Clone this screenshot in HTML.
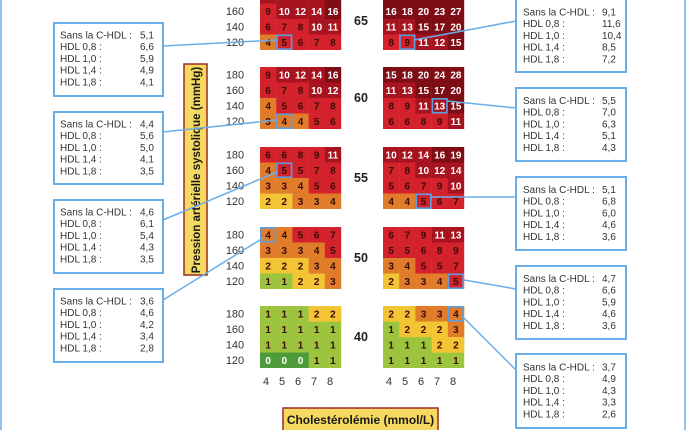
<!DOCTYPE html>
<html><head><meta charset="utf-8"><style>
html,body{margin:0;padding:0;background:#fff;}
svg{display:block;font-family:"Liberation Sans",sans-serif;}
.g0{fill:#4f9a3b}.g{fill:#9cc43f}.y{fill:#f3c535}.o{fill:#e07c2a}.r{fill:#d3222b}.d{fill:#a7131e}.dd{fill:#7f0d15}
.c text{font-size:10px;font-weight:bold;text-anchor:middle;fill:#3a0c08}
.c text.w{fill:#fff}
.lab{font-size:11px;fill:#333;text-anchor:middle}
.big{font-size:12.5px;font-weight:bold;fill:#222;text-anchor:middle}
.bx{fill:#fff;stroke:#6aaee8;stroke-width:2}
.bt{font-size:10px;fill:#333}
.ln{stroke:#6aaee8;stroke-width:1.5;fill:none}
.hl{fill:none;stroke:#5b9fe0;stroke-width:1.6}
</style></head><body>
<svg width="686" height="430" viewBox="0 0 686 430">
<line x1="1" y1="0" x2="1" y2="430" class="ln" stroke-width="2"/>
<line x1="685" y1="0" x2="685" y2="430" class="ln" stroke-width="2"/>

<!-- 65 Left -->
<g class="c" transform="translate(260,-12)">
<rect class="d" x="0" y="0" width="16.4" height="15.7"/><rect class="d" x="16.2" y="0" width="16.4" height="15.7"/><rect class="d" x="32.4" y="0" width="16.4" height="15.7"/><rect class="d" x="48.6" y="0" width="16.4" height="15.7"/><rect class="dd" x="64.8" y="0" width="16.4" height="15.7"/>
<rect class="r" x="0" y="15.5" width="16.4" height="15.7"/><rect class="d" x="16.2" y="15.5" width="16.4" height="15.7"/><rect class="d" x="32.4" y="15.5" width="16.4" height="15.7"/><rect class="d" x="48.6" y="15.5" width="16.4" height="15.7"/><rect class="dd" x="64.8" y="15.5" width="16.4" height="15.7"/>
<rect class="r" x="0" y="31" width="16.4" height="15.7"/><rect class="r" x="16.2" y="31" width="16.4" height="15.7"/><rect class="r" x="32.4" y="31" width="16.4" height="15.7"/><rect class="d" x="48.6" y="31" width="16.4" height="15.7"/><rect class="d" x="64.8" y="31" width="16.4" height="15.7"/>
<rect class="o" x="0" y="46.5" width="16.4" height="15.5"/><rect class="r" x="16.2" y="46.5" width="16.4" height="15.5"/><rect class="r" x="32.4" y="46.5" width="16.4" height="15.5"/><rect class="r" x="48.6" y="46.5" width="16.4" height="15.5"/><rect class="r" x="64.8" y="46.5" width="16.4" height="15.5"/>
<text class="w" x="8.1" y="11.5">12</text><text class="w" x="24.3" y="11.5">13</text><text class="w" x="40.5" y="11.5">14</text><text class="w" x="56.7" y="11.5">14</text><text class="w" x="72.9" y="11.5">19</text>
<text x="8.1" y="27">9</text><text class="w" x="24.3" y="27">10</text><text class="w" x="40.5" y="27">12</text><text class="w" x="56.7" y="27">14</text><text class="w" x="72.9" y="27">16</text>
<text x="8.1" y="42.5">6</text><text x="24.3" y="42.5">7</text><text x="40.5" y="42.5">8</text><text class="w" x="56.7" y="42.5">10</text><text class="w" x="72.9" y="42.5">11</text>
<text x="8.1" y="58">4</text><text x="24.3" y="58">5</text><text x="40.5" y="58">6</text><text x="56.7" y="58">7</text><text x="72.9" y="58">8</text>
<rect class="hl" x="17" y="47.3" width="14.6" height="13.9"/>
</g>

<!-- 65 Right -->
<g class="c" transform="translate(383,-12)">
<rect class="dd" x="0" y="0" width="81.2" height="31.2"/>
<rect class="d" x="0" y="31" width="16.4" height="15.7"/><rect class="d" x="16.2" y="31" width="16.4" height="15.7"/><rect class="dd" x="32.4" y="31" width="16.4" height="15.7"/><rect class="dd" x="48.6" y="31" width="16.4" height="15.7"/><rect class="dd" x="64.8" y="31" width="16.4" height="15.7"/>
<rect class="r" x="0" y="46.5" width="16.4" height="15.5"/><rect class="r" x="16.2" y="46.5" width="16.4" height="15.5"/><rect class="d" x="32.4" y="46.5" width="16.4" height="15.5"/><rect class="d" x="48.6" y="46.5" width="16.4" height="15.5"/><rect class="dd" x="64.8" y="46.5" width="16.4" height="15.5"/>
<text class="w" x="8.1" y="11.5">22</text><text class="w" x="24.3" y="11.5">24</text><text class="w" x="40.5" y="11.5">27</text><text class="w" x="56.7" y="11.5">30</text><text class="w" x="72.9" y="11.5">33</text>
<text class="w" x="8.1" y="27">16</text><text class="w" x="24.3" y="27">18</text><text class="w" x="40.5" y="27">20</text><text class="w" x="56.7" y="27">23</text><text class="w" x="72.9" y="27">27</text>
<text class="w" x="8.1" y="42.5">11</text><text class="w" x="24.3" y="42.5">13</text><text class="w" x="40.5" y="42.5">15</text><text class="w" x="56.7" y="42.5">17</text><text class="w" x="72.9" y="42.5">20</text>
<text x="8.1" y="58">8</text><text x="24.3" y="58">9</text><text class="w" x="40.5" y="58">11</text><text class="w" x="56.7" y="58">12</text><text class="w" x="72.9" y="58">15</text>
<rect class="hl" x="17" y="47.3" width="14.6" height="13.9"/>
</g>

<!-- 60 Left -->
<g class="c" transform="translate(260,67)">
<rect class="r" x="0" y="0" width="16.4" height="15.7"/><rect class="d" x="16.2" y="0" width="16.4" height="15.7"/><rect class="d" x="32.4" y="0" width="16.4" height="15.7"/><rect class="d" x="48.6" y="0" width="16.4" height="15.7"/><rect class="dd" x="64.8" y="0" width="16.4" height="15.7"/>
<rect class="r" x="0" y="15.5" width="16.4" height="15.7"/><rect class="r" x="16.2" y="15.5" width="16.4" height="15.7"/><rect class="r" x="32.4" y="15.5" width="16.4" height="15.7"/><rect class="d" x="48.6" y="15.5" width="16.4" height="15.7"/><rect class="d" x="64.8" y="15.5" width="16.4" height="15.7"/>
<rect class="o" x="0" y="31" width="16.4" height="15.7"/><rect class="r" x="16.2" y="31" width="16.4" height="15.7"/><rect class="r" x="32.4" y="31" width="16.4" height="15.7"/><rect class="r" x="48.6" y="31" width="16.4" height="15.7"/><rect class="r" x="64.8" y="31" width="16.4" height="15.7"/>
<rect class="o" x="0" y="46.5" width="16.4" height="15.5"/><rect class="o" x="16.2" y="46.5" width="16.4" height="15.5"/><rect class="o" x="32.4" y="46.5" width="16.4" height="15.5"/><rect class="r" x="48.6" y="46.5" width="16.4" height="15.5"/><rect class="r" x="64.8" y="46.5" width="16.4" height="15.5"/>
<text x="8.1" y="11.5">9</text><text class="w" x="24.3" y="11.5">10</text><text class="w" x="40.5" y="11.5">12</text><text class="w" x="56.7" y="11.5">14</text><text class="w" x="72.9" y="11.5">16</text>
<text x="8.1" y="27">6</text><text x="24.3" y="27">7</text><text x="40.5" y="27">8</text><text class="w" x="56.7" y="27">10</text><text class="w" x="72.9" y="27">12</text>
<text x="8.1" y="42.5">4</text><text x="24.3" y="42.5">5</text><text x="40.5" y="42.5">6</text><text x="56.7" y="42.5">7</text><text x="72.9" y="42.5">8</text>
<text x="8.1" y="58">3</text><text x="24.3" y="58">4</text><text x="40.5" y="58">4</text><text x="56.7" y="58">5</text><text x="72.9" y="58">6</text>
<rect class="hl" x="17" y="47.3" width="14.6" height="13.9"/>
</g>

<!-- 60 Right -->
<g class="c" transform="translate(383,67)">
<rect class="dd" x="0" y="0" width="81.2" height="15.7"/>
<rect class="d" x="0" y="15.5" width="16.4" height="15.7"/><rect class="d" x="16.2" y="15.5" width="16.4" height="15.7"/><rect class="dd" x="32.4" y="15.5" width="16.4" height="15.7"/><rect class="dd" x="48.6" y="15.5" width="16.4" height="15.7"/><rect class="dd" x="64.8" y="15.5" width="16.4" height="15.7"/>
<rect class="r" x="0" y="31" width="16.4" height="15.7"/><rect class="r" x="16.2" y="31" width="16.4" height="15.7"/><rect class="d" x="32.4" y="31" width="16.4" height="15.7"/><rect class="d" x="48.6" y="31" width="16.4" height="15.7"/><rect class="dd" x="64.8" y="31" width="16.4" height="15.7"/>
<rect class="r" x="0" y="46.5" width="16.4" height="15.5"/><rect class="r" x="16.2" y="46.5" width="16.4" height="15.5"/><rect class="r" x="32.4" y="46.5" width="16.4" height="15.5"/><rect class="r" x="48.6" y="46.5" width="16.4" height="15.5"/><rect class="d" x="64.8" y="46.5" width="16.4" height="15.5"/>
<text class="w" x="8.1" y="11.5">15</text><text class="w" x="24.3" y="11.5">18</text><text class="w" x="40.5" y="11.5">20</text><text class="w" x="56.7" y="11.5">24</text><text class="w" x="72.9" y="11.5">28</text>
<text class="w" x="8.1" y="27">11</text><text class="w" x="24.3" y="27">13</text><text class="w" x="40.5" y="27">15</text><text class="w" x="56.7" y="27">17</text><text class="w" x="72.9" y="27">20</text>
<text x="8.1" y="42.5">8</text><text x="24.3" y="42.5">9</text><text class="w" x="40.5" y="42.5">11</text><text class="w" x="56.7" y="42.5">13</text><text class="w" x="72.9" y="42.5">15</text>
<text x="8.1" y="58">6</text><text x="24.3" y="58">6</text><text x="40.5" y="58">8</text><text x="56.7" y="58">9</text><text class="w" x="72.9" y="58">11</text>
<rect class="hl" x="49.4" y="31.8" width="14.6" height="13.9"/>
</g>

<!-- 55 Left -->
<g class="c" transform="translate(260,147)">
<rect class="r" x="0" y="0" width="16.4" height="15.7"/><rect class="r" x="16.2" y="0" width="16.4" height="15.7"/><rect class="r" x="32.4" y="0" width="16.4" height="15.7"/><rect class="r" x="48.6" y="0" width="16.4" height="15.7"/><rect class="d" x="64.8" y="0" width="16.4" height="15.7"/>
<rect class="o" x="0" y="15.5" width="16.4" height="15.7"/><rect class="r" x="16.2" y="15.5" width="16.4" height="15.7"/><rect class="r" x="32.4" y="15.5" width="16.4" height="15.7"/><rect class="r" x="48.6" y="15.5" width="16.4" height="15.7"/><rect class="r" x="64.8" y="15.5" width="16.4" height="15.7"/>
<rect class="o" x="0" y="31" width="16.4" height="15.7"/><rect class="o" x="16.2" y="31" width="16.4" height="15.7"/><rect class="o" x="32.4" y="31" width="16.4" height="15.7"/><rect class="r" x="48.6" y="31" width="16.4" height="15.7"/><rect class="r" x="64.8" y="31" width="16.4" height="15.7"/>
<rect class="y" x="0" y="46.5" width="16.4" height="15.5"/><rect class="y" x="16.2" y="46.5" width="16.4" height="15.5"/><rect class="o" x="32.4" y="46.5" width="16.4" height="15.5"/><rect class="o" x="48.6" y="46.5" width="16.4" height="15.5"/><rect class="o" x="64.8" y="46.5" width="16.4" height="15.5"/>
<text x="8.1" y="11.5">6</text><text x="24.3" y="11.5">6</text><text x="40.5" y="11.5">8</text><text x="56.7" y="11.5">9</text><text class="w" x="72.9" y="11.5">11</text>
<text x="8.1" y="27">4</text><text x="24.3" y="27">5</text><text x="40.5" y="27">5</text><text x="56.7" y="27">7</text><text x="72.9" y="27">8</text>
<text x="8.1" y="42.5">3</text><text x="24.3" y="42.5">3</text><text x="40.5" y="42.5">4</text><text x="56.7" y="42.5">5</text><text x="72.9" y="42.5">6</text>
<text x="8.1" y="58">2</text><text x="24.3" y="58">2</text><text x="40.5" y="58">3</text><text x="56.7" y="58">3</text><text x="72.9" y="58">4</text>
<rect class="hl" x="17" y="16.3" width="14.6" height="13.9"/>
</g>

<!-- 55 Right -->
<g class="c" transform="translate(383,147)">
<rect class="d" x="0" y="0" width="16.4" height="15.7"/><rect class="d" x="16.2" y="0" width="16.4" height="15.7"/><rect class="d" x="32.4" y="0" width="16.4" height="15.7"/><rect class="dd" x="48.6" y="0" width="16.4" height="15.7"/><rect class="dd" x="64.8" y="0" width="16.4" height="15.7"/>
<rect class="r" x="0" y="15.5" width="16.4" height="15.7"/><rect class="r" x="16.2" y="15.5" width="16.4" height="15.7"/><rect class="d" x="32.4" y="15.5" width="16.4" height="15.7"/><rect class="d" x="48.6" y="15.5" width="16.4" height="15.7"/><rect class="d" x="64.8" y="15.5" width="16.4" height="15.7"/>
<rect class="r" x="0" y="31" width="16.4" height="15.7"/><rect class="r" x="16.2" y="31" width="16.4" height="15.7"/><rect class="r" x="32.4" y="31" width="16.4" height="15.7"/><rect class="r" x="48.6" y="31" width="16.4" height="15.7"/><rect class="d" x="64.8" y="31" width="16.4" height="15.7"/>
<rect class="o" x="0" y="46.5" width="16.4" height="15.5"/><rect class="o" x="16.2" y="46.5" width="16.4" height="15.5"/><rect class="r" x="32.4" y="46.5" width="16.4" height="15.5"/><rect class="r" x="48.6" y="46.5" width="16.4" height="15.5"/><rect class="r" x="64.8" y="46.5" width="16.4" height="15.5"/>
<text class="w" x="8.1" y="11.5">10</text><text class="w" x="24.3" y="11.5">12</text><text class="w" x="40.5" y="11.5">14</text><text class="w" x="56.7" y="11.5">16</text><text class="w" x="72.9" y="11.5">19</text>
<text x="8.1" y="27">7</text><text x="24.3" y="27">8</text><text class="w" x="40.5" y="27">10</text><text class="w" x="56.7" y="27">12</text><text class="w" x="72.9" y="27">14</text>
<text x="8.1" y="42.5">5</text><text x="24.3" y="42.5">6</text><text x="40.5" y="42.5">7</text><text x="56.7" y="42.5">9</text><text class="w" x="72.9" y="42.5">10</text>
<text x="8.1" y="58">4</text><text x="24.3" y="58">4</text><text x="40.5" y="58">5</text><text x="56.7" y="58">6</text><text x="72.9" y="58">7</text>
<rect class="hl" x="33.2" y="47.3" width="14.6" height="13.9"/>
</g>

<!-- 50 Left -->
<g class="c" transform="translate(260,227)">
<rect class="o" x="0" y="0" width="16.4" height="15.7"/><rect class="o" x="16.2" y="0" width="16.4" height="15.7"/><rect class="r" x="32.4" y="0" width="16.4" height="15.7"/><rect class="r" x="48.6" y="0" width="16.4" height="15.7"/><rect class="r" x="64.8" y="0" width="16.4" height="15.7"/>
<rect class="o" x="0" y="15.5" width="16.4" height="15.7"/><rect class="o" x="16.2" y="15.5" width="16.4" height="15.7"/><rect class="o" x="32.4" y="15.5" width="16.4" height="15.7"/><rect class="o" x="48.6" y="15.5" width="16.4" height="15.7"/><rect class="r" x="64.8" y="15.5" width="16.4" height="15.7"/>
<rect class="y" x="0" y="31" width="16.4" height="15.7"/><rect class="y" x="16.2" y="31" width="16.4" height="15.7"/><rect class="y" x="32.4" y="31" width="16.4" height="15.7"/><rect class="o" x="48.6" y="31" width="16.4" height="15.7"/><rect class="o" x="64.8" y="31" width="16.4" height="15.7"/>
<rect class="g" x="0" y="46.5" width="16.4" height="15.5"/><rect class="g" x="16.2" y="46.5" width="16.4" height="15.5"/><rect class="y" x="32.4" y="46.5" width="16.4" height="15.5"/><rect class="y" x="48.6" y="46.5" width="16.4" height="15.5"/><rect class="o" x="64.8" y="46.5" width="16.4" height="15.5"/>
<text x="8.1" y="11.5">4</text><text x="24.3" y="11.5">4</text><text x="40.5" y="11.5">5</text><text x="56.7" y="11.5">6</text><text x="72.9" y="11.5">7</text>
<text x="8.1" y="27">3</text><text x="24.3" y="27">3</text><text x="40.5" y="27">3</text><text x="56.7" y="27">4</text><text x="72.9" y="27">5</text>
<text x="8.1" y="42.5">2</text><text x="24.3" y="42.5">2</text><text x="40.5" y="42.5">2</text><text x="56.7" y="42.5">3</text><text x="72.9" y="42.5">4</text>
<text x="8.1" y="58">1</text><text x="24.3" y="58">1</text><text x="40.5" y="58">2</text><text x="56.7" y="58">2</text><text x="72.9" y="58">3</text>
<rect class="hl" x="0.8" y="0.8" width="14.6" height="13.9"/>
</g>

<!-- 50 Right -->
<g class="c" transform="translate(383,227)">
<rect class="r" x="0" y="0" width="16.4" height="15.7"/><rect class="r" x="16.2" y="0" width="16.4" height="15.7"/><rect class="r" x="32.4" y="0" width="16.4" height="15.7"/><rect class="d" x="48.6" y="0" width="16.4" height="15.7"/><rect class="d" x="64.8" y="0" width="16.4" height="15.7"/>
<rect class="r" x="0" y="15.5" width="81.2" height="15.7"/>
<rect class="o" x="0" y="31" width="16.4" height="15.7"/><rect class="o" x="16.2" y="31" width="16.4" height="15.7"/><rect class="r" x="32.4" y="31" width="16.4" height="15.7"/><rect class="r" x="48.6" y="31" width="16.4" height="15.7"/><rect class="r" x="64.8" y="31" width="16.4" height="15.7"/>
<rect class="y" x="0" y="46.5" width="16.4" height="15.5"/><rect class="o" x="16.2" y="46.5" width="16.4" height="15.5"/><rect class="o" x="32.4" y="46.5" width="16.4" height="15.5"/><rect class="o" x="48.6" y="46.5" width="16.4" height="15.5"/><rect class="r" x="64.8" y="46.5" width="16.4" height="15.5"/>
<text x="8.1" y="11.5">6</text><text x="24.3" y="11.5">7</text><text x="40.5" y="11.5">9</text><text class="w" x="56.7" y="11.5">11</text><text class="w" x="72.9" y="11.5">13</text>
<text x="8.1" y="27">5</text><text x="24.3" y="27">5</text><text x="40.5" y="27">6</text><text x="56.7" y="27">8</text><text x="72.9" y="27">9</text>
<text x="8.1" y="42.5">3</text><text x="24.3" y="42.5">4</text><text x="40.5" y="42.5">5</text><text x="56.7" y="42.5">5</text><text x="72.9" y="42.5">7</text>
<text x="8.1" y="58">2</text><text x="24.3" y="58">3</text><text x="40.5" y="58">3</text><text x="56.7" y="58">4</text><text x="72.9" y="58">5</text>
<rect class="hl" x="65.6" y="47.3" width="14.6" height="13.9"/>
</g>

<!-- 40 Left -->
<g class="c" transform="translate(260,306)">
<rect class="g" x="0" y="0" width="81.2" height="62"/>
<rect class="y" x="48.6" y="0" width="32.6" height="15.7"/>
<rect class="g0" x="0" y="46.5" width="48.8" height="15.5"/>
<text x="8.1" y="11.5">1</text><text x="24.3" y="11.5">1</text><text x="40.5" y="11.5">1</text><text x="56.7" y="11.5">2</text><text x="72.9" y="11.5">2</text>
<text x="8.1" y="27">1</text><text x="24.3" y="27">1</text><text x="40.5" y="27">1</text><text x="56.7" y="27">1</text><text x="72.9" y="27">1</text>
<text x="8.1" y="42.5">1</text><text x="24.3" y="42.5">1</text><text x="40.5" y="42.5">1</text><text x="56.7" y="42.5">1</text><text x="72.9" y="42.5">1</text>
<text class="w" x="8.1" y="58">0</text><text class="w" x="24.3" y="58">0</text><text class="w" x="40.5" y="58">0</text><text x="56.7" y="58">1</text><text x="72.9" y="58">1</text>
</g>

<!-- 40 Right -->
<g class="c" transform="translate(383,306)">
<rect class="g" x="0" y="0" width="81.2" height="62"/>
<rect class="y" x="0" y="0" width="32.6" height="15.7"/><rect class="o" x="32.4" y="0" width="48.8" height="15.7"/>
<rect class="y" x="16.2" y="15.5" width="48.8" height="15.7"/><rect class="o" x="64.8" y="15.5" width="16.4" height="15.7"/>
<rect class="y" x="48.6" y="31" width="32.6" height="15.7"/>
<text x="8.1" y="11.5">2</text><text x="24.3" y="11.5">2</text><text x="40.5" y="11.5">3</text><text x="56.7" y="11.5">3</text><text x="72.9" y="11.5">4</text>
<text x="8.1" y="27">1</text><text x="24.3" y="27">2</text><text x="40.5" y="27">2</text><text x="56.7" y="27">2</text><text x="72.9" y="27">3</text>
<text x="8.1" y="42.5">1</text><text x="24.3" y="42.5">1</text><text x="40.5" y="42.5">1</text><text x="56.7" y="42.5">2</text><text x="72.9" y="42.5">2</text>
<text x="8.1" y="58">1</text><text x="24.3" y="58">1</text><text x="40.5" y="58">1</text><text x="56.7" y="58">1</text><text x="72.9" y="58">1</text>
<rect class="hl" x="65.6" y="0.8" width="14.6" height="13.9"/>
</g>

<!-- row labels -->
<g class="lab">
<text x="235" y="-0.5">180</text><text x="235" y="15">160</text><text x="235" y="30.5">140</text><text x="235" y="46">120</text>
<text x="235" y="78.5">180</text><text x="235" y="94">160</text><text x="235" y="109.5">140</text><text x="235" y="125">120</text>
<text x="235" y="158.5">180</text><text x="235" y="174">160</text><text x="235" y="189.5">140</text><text x="235" y="205">120</text>
<text x="235" y="238.5">180</text><text x="235" y="254">160</text><text x="235" y="269.5">140</text><text x="235" y="285">120</text>
<text x="235" y="317.5">180</text><text x="235" y="333">160</text><text x="235" y="348.5">140</text><text x="235" y="364">120</text>
<text x="266" y="385">4</text><text x="282" y="385">5</text><text x="298" y="385">6</text><text x="314" y="385">7</text><text x="330" y="385">8</text>
<text x="389" y="385">4</text><text x="405" y="385">5</text><text x="421" y="385">6</text><text x="437" y="385">7</text><text x="453" y="385">8</text>
</g>
<g class="big">
<text x="361" y="25">65</text><text x="361" y="102">60</text><text x="361" y="182">55</text><text x="361" y="262">50</text><text x="361" y="341">40</text>
</g>

<!-- axis label boxes -->
<rect x="184" y="64" width="23" height="211" fill="#f6d960" stroke="#9b2a22" stroke-width="1.5"/>
<text transform="translate(200,170) rotate(-90)" text-anchor="middle" font-size="11.5" font-weight="bold" fill="#1a1a1a">Pression artérielle systolique (mmHg)</text>
<rect x="283" y="408" width="155" height="26" fill="#f6d960" stroke="#9b2a22" stroke-width="1.5"/>
<text x="360.5" y="424" text-anchor="middle" font-size="12" font-weight="bold" fill="#1a1a1a">Cholestérolémie (mmol/L)</text>

<!-- connectors -->
<line class="ln" x1="163" y1="46" x2="277" y2="40"/>
<line class="ln" x1="163" y1="132" x2="277" y2="120"/>
<line class="ln" x1="163" y1="220" x2="277" y2="172"/>
<line class="ln" x1="163" y1="300" x2="263" y2="238"/>
<line class="ln" x1="516" y1="21" x2="414" y2="40"/>
<line class="ln" x1="516" y1="108" x2="447" y2="101"/>
<line class="ln" x1="516" y1="197" x2="431" y2="197"/>
<line class="ln" x1="516" y1="289" x2="464" y2="280"/>
<line class="ln" x1="516" y1="370" x2="461" y2="315"/>

<!-- left boxes -->
<g class="bt">
<rect class="bx" x="54" y="23" width="109" height="73"/>
<text x="60" y="38.5">Sans la C-HDL :</text><text x="140" y="38.5">5,1</text>
<text x="60" y="50.2">HDL 0,8 :</text><text x="140" y="50.2">6,6</text>
<text x="60" y="61.9">HDL 1,0 :</text><text x="140" y="61.9">5,9</text>
<text x="60" y="73.6">HDL 1,4 :</text><text x="140" y="73.6">4,9</text>
<text x="60" y="85.3">HDL 1,8 :</text><text x="140" y="85.3">4,1</text>
<rect class="bx" x="54" y="112" width="109" height="72"/>
<text x="60" y="127.5">Sans la C-HDL :</text><text x="140" y="127.5">4,4</text>
<text x="60" y="139.2">HDL 0,8 :</text><text x="140" y="139.2">5,6</text>
<text x="60" y="150.9">HDL 1,0 :</text><text x="140" y="150.9">5,0</text>
<text x="60" y="162.6">HDL 1,4 :</text><text x="140" y="162.6">4,1</text>
<text x="60" y="174.3">HDL 1,8 :</text><text x="140" y="174.3">3,5</text>
<rect class="bx" x="54" y="200" width="109" height="73"/>
<text x="60" y="215.5">Sans la C-HDL :</text><text x="140" y="215.5">4,6</text>
<text x="60" y="227.2">HDL 0,8 :</text><text x="140" y="227.2">6,1</text>
<text x="60" y="238.9">HDL 1,0 :</text><text x="140" y="238.9">5,4</text>
<text x="60" y="250.6">HDL 1,4 :</text><text x="140" y="250.6">4,3</text>
<text x="60" y="262.3">HDL 1,8 :</text><text x="140" y="262.3">3,5</text>
<rect class="bx" x="54" y="289" width="109" height="73"/>
<text x="60" y="304.5">Sans la C-HDL :</text><text x="140" y="304.5">3,6</text>
<text x="60" y="316.2">HDL 0,8 :</text><text x="140" y="316.2">4,6</text>
<text x="60" y="327.9">HDL 1,0 :</text><text x="140" y="327.9">4,2</text>
<text x="60" y="339.6">HDL 1,4 :</text><text x="140" y="339.6">3,4</text>
<text x="60" y="351.3">HDL 1,8 :</text><text x="140" y="351.3">2,8</text>

<!-- right boxes -->
<rect class="bx" x="516" y="-2" width="110" height="74"/>
<text x="523" y="15.5">Sans la C-HDL :</text><text x="602" y="15.5">9,1</text>
<text x="523" y="27.2">HDL 0,8 :</text><text x="602" y="27.2">11,6</text>
<text x="523" y="38.9">HDL 1,0 :</text><text x="602" y="38.9">10,4</text>
<text x="523" y="50.6">HDL 1,4 :</text><text x="602" y="50.6">8,5</text>
<text x="523" y="62.3">HDL 1,8 :</text><text x="602" y="62.3">7,2</text>
<rect class="bx" x="516" y="88" width="110" height="73"/>
<text x="523" y="104">Sans la C-HDL :</text><text x="602" y="104">5,5</text>
<text x="523" y="115.7">HDL 0,8 :</text><text x="602" y="115.7">7,0</text>
<text x="523" y="127.4">HDL 1,0 :</text><text x="602" y="127.4">6,3</text>
<text x="523" y="139.1">HDL 1,4 :</text><text x="602" y="139.1">5,1</text>
<text x="523" y="150.8">HDL 1,8 :</text><text x="602" y="150.8">4,3</text>
<rect class="bx" x="516" y="177" width="110" height="73"/>
<text x="523" y="193">Sans la C-HDL :</text><text x="602" y="193">5,1</text>
<text x="523" y="204.7">HDL 0,8 :</text><text x="602" y="204.7">6,8</text>
<text x="523" y="216.4">HDL 1,0 :</text><text x="602" y="216.4">6,0</text>
<text x="523" y="228.1">HDL 1,4 :</text><text x="602" y="228.1">4,6</text>
<text x="523" y="239.8">HDL 1,8 :</text><text x="602" y="239.8">3,6</text>
<rect class="bx" x="516" y="266" width="110" height="73"/>
<text x="523" y="282">Sans la C-HDL :</text><text x="602" y="282">4,7</text>
<text x="523" y="293.7">HDL 0,8 :</text><text x="602" y="293.7">6,6</text>
<text x="523" y="305.4">HDL 1,0 :</text><text x="602" y="305.4">5,9</text>
<text x="523" y="317.1">HDL 1,4 :</text><text x="602" y="317.1">4,6</text>
<text x="523" y="328.8">HDL 1,8 :</text><text x="602" y="328.8">3,6</text>
<rect class="bx" x="516" y="354" width="110" height="74"/>
<text x="523" y="370.5">Sans la C-HDL :</text><text x="602" y="370.5">3,7</text>
<text x="523" y="382.2">HDL 0,8 :</text><text x="602" y="382.2">4,9</text>
<text x="523" y="393.9">HDL 1,0 :</text><text x="602" y="393.9">4,3</text>
<text x="523" y="405.6">HDL 1,4 :</text><text x="602" y="405.6">3,3</text>
<text x="523" y="417.3">HDL 1,8 :</text><text x="602" y="417.3">2,6</text>
</g>
</svg>
</body></html>
